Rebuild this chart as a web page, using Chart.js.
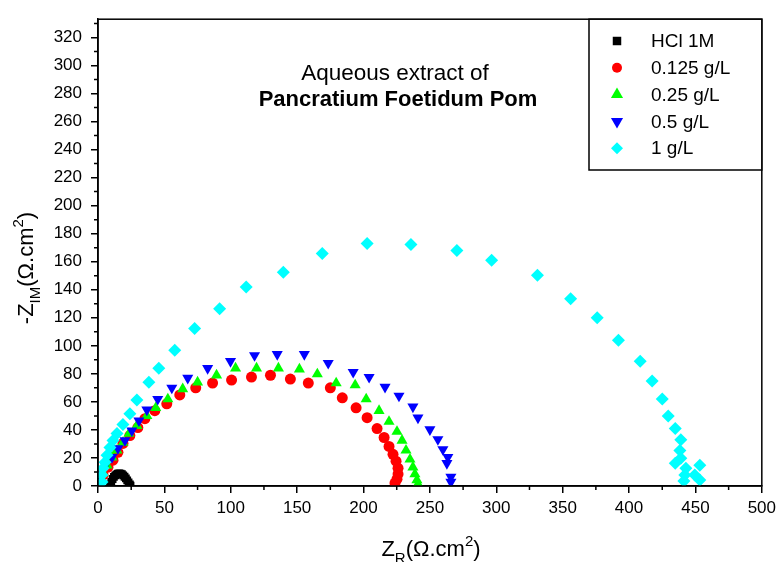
<!DOCTYPE html>
<html>
<head>
<meta charset="utf-8">
<script src="https://cdn.jsdelivr.net/npm/chart.js"></script>
<style>
  html, body { margin: 0; padding: 0; background: #fff; }
</style>
</head>
<body>
<canvas id="nyquist" width="781" height="562"></canvas>
<script>
// series labels
const seriesLabels = ['HCl 1M', '0.125 g/L', '0.25 g/L', '0.5 g/L', '1 g/L'];

// HCl 1M
const hclX = [9, 10, 11, 12, 13, 14, 15, 16, 17, 18, 19, 20, 21, 22, 23, 24, 24.5];
const hclY = [1, 3, 5, 6.5, 7.6, 8.3, 8.8, 9, 8.8, 8.4, 7.6, 6.6, 5.4, 4, 2.6, 1.2, 0.3];

// 0.125 g/L
const c0125X = [0, 3.8, 7.5, 11.3, 15, 18.8, 24, 30, 35.3, 42.8, 51.8, 61.6, 73.6, 86.3, 100.6, 115.6, 129.9, 144.9, 158.4, 175, 184, 194.4, 202.7, 210.2, 215.5, 219.2, 222.2, 224.5, 226, 226, 225.2, 223.7];
const c0125Y = [2, 7.8, 13.4, 18.4, 24, 30.4, 36, 41.7, 48, 53.7, 58.6, 65, 70, 73.4, 75.6, 77.7, 79, 76.3, 73.4, 70, 62.9, 55.8, 48.7, 41, 34.6, 28.2, 22.6, 17.7, 12.7, 8.5, 4.9, 2.1];

// 0.25 g/L
const c025X = [0, 3.8, 6.8, 10.5, 14.3, 18.8, 23.3, 29.3, 36.8, 43.5, 52.6, 63.8, 75, 89.3, 103.6, 119.4, 135.9, 151.7, 165.2, 179.4, 193.7, 202, 211.7, 219.2, 225.2, 229, 232, 235, 237.2, 238.7, 240.2, 241];
const c025Y = [2.8, 9.2, 14.8, 20.5, 25.4, 31, 37.4, 43, 50, 55.8, 62, 69.2, 74, 79, 84, 84, 84, 83.3, 79.8, 73.4, 72, 62, 53.7, 45.9, 38.8, 32.5, 25.4, 19, 13.4, 8.5, 4.2, 1.4];

// 0.5 g/L
const c05X = [0, 1.5, 5.3, 10.5, 15, 20.3, 25.5, 30.8, 36.8, 45, 55.6, 67.6, 82.6, 99.8, 117.9, 135, 155.4, 173.4, 192.2, 204.2, 216.2, 226.7, 237.2, 241, 250, 256, 259.8, 263.5, 262.8, 265.8, 265.8];
const c05Y = [2.8, 7.8, 14.8, 20.5, 26.8, 32.5, 39.5, 46.6, 54.4, 62, 70, 77, 84, 89, 93.2, 94, 94, 87.6, 81.2, 77.7, 70.6, 64.3, 56.5, 48.7, 40.3, 33.2, 26.1, 20.5, 16.2, 6.4, 2.8];

// 1 g/L
const c1X = [3, 3, 3.8, 5.3, 6.8, 9, 11.3, 14.3, 18.8, 24, 29.3, 38.3, 45.8, 57.8, 72.8, 91.6, 111.6, 139.6, 168.9, 202.7, 235.7, 270.3, 296.5, 331, 356, 376, 392, 408.4, 417.4, 425, 429.5, 434.8, 439, 438.3, 439, 434.8, 453.3, 442.8, 442, 449.5, 453.3, 441.3];
const c1Y = [2.8, 7.8, 12.7, 17, 21.9, 27.5, 32.5, 37.4, 43.8, 51.5, 61.4, 74, 84, 96.8, 112.3, 126.4, 142, 152.5, 165.9, 173, 172.3, 168, 161, 150.4, 133.5, 120, 104, 89, 74.9, 62, 50, 41, 33, 25.4, 19.8, 16.2, 14.8, 12.7, 7.8, 7.8, 4.2, 3.5];

// axes
const xMin = 0, xMax = 500, xStep = 50;
const yMin = 0, yMax = 333, yStep = 20;

const toPts = (xs, ys) => xs.map((v, i) => ({ x: v, y: ys[i] }));

const styles = [
  { color: '#000000', pointStyle: 'rect', radius: 5.5, rotation: 0 },
  { color: '#ff0000', pointStyle: 'circle', radius: 5.5, rotation: 0 },
  { color: '#00ff00', pointStyle: 'triangle', radius: 6.4, rotation: 0 },
  { color: '#0000ff', pointStyle: 'triangle', radius: 6.4, rotation: 180 },
  { color: '#00ffff', pointStyle: 'rectRot', radius: 6.5, rotation: 0 }
];
const seriesData = [toPts(hclX, hclY), toPts(c0125X, c0125Y), toPts(c025X, c025Y), toPts(c05X, c05Y), toPts(c1X, c1Y)];

const datasets = seriesData.map((d, i) => ({
  label: seriesLabels[i],
  data: d,
  showLine: false,
  pointStyle: styles[i].pointStyle,
  pointRadius: styles[i].radius,
  pointRotation: styles[i].rotation,
  pointBackgroundColor: styles[i].color,
  pointBorderColor: styles[i].color,
  pointBorderWidth: 0,
  order: 5 - i   // cyan drawn on top
}));

const FONT = '"Liberation Sans", Arial, sans-serif';

// text with sub/superscripts
function richText(ctx, parts, cx, cy, angle) {
  ctx.save();
  ctx.translate(cx, cy);
  ctx.rotate(angle);
  let w = 0;
  parts.forEach(p => { ctx.font = p.size + 'px ' + FONT; w += ctx.measureText(p.t).width; });
  let x = -w / 2;
  ctx.fillStyle = '#000';
  ctx.textBaseline = 'alphabetic';
  ctx.textAlign = 'left';
  parts.forEach(p => {
    ctx.font = p.size + 'px ' + FONT;
    ctx.fillText(p.t, x, p.dy || 0);
    x += ctx.measureText(p.t).width;
  });
  ctx.restore();
}

const decorations = {
  id: 'decorations',
  afterDraw(chart) {
    const { ctx, chartArea: a, scales } = chart;
    ctx.save();
    // frame
    ctx.strokeStyle = '#000';
    ctx.lineWidth = 1.5;
    ctx.strokeRect(a.left, a.top, a.right - a.left, a.bottom - a.top);

    // minor ticks halfway between major ones
    ctx.beginPath();
    const xt = scales.x.ticks;
    for (let i = 0; i < xt.length - 1; i++) {
      const px = scales.x.getPixelForValue((xt[i].value + xt[i + 1].value) / 2);
      ctx.moveTo(px, a.bottom); ctx.lineTo(px, a.bottom + 4);
    }
    const yt = scales.y.ticks;
    for (let i = 0; i < yt.length; i++) {
      const v = yt[i].value + yStep / 2;
      if (v > yMax) break;
      const py = scales.y.getPixelForValue(v);
      ctx.moveTo(a.left, py); ctx.lineTo(a.left - 4, py);
    }
    ctx.stroke();

    // annotation
    ctx.fillStyle = '#000';
    ctx.textAlign = 'center';
    ctx.textBaseline = 'middle';
    ctx.font = '22.5px ' + FONT;
    ctx.fillText('Aqueous extract of', 395, 74);
    ctx.font = 'bold 22px ' + FONT;
    ctx.fillText('Pancratium Foetidum Pom', 398, 100);

    // axis titles
    richText(ctx, [
      { t: 'Z', size: 22 }, { t: 'R', size: 15, dy: 7 },
      { t: '(\u03A9.cm', size: 22 }, { t: '2', size: 15, dy: -10 }, { t: ')', size: 22 }
    ], 431, 556, 0);
    richText(ctx, [
      { t: '-Z', size: 22 }, { t: 'IM', size: 15, dy: 7 },
      { t: '(\u03A9.cm', size: 22 }, { t: '2', size: 15, dy: -10 }, { t: ')', size: 22 }
    ], 33, 268, -Math.PI / 2);

    // legend box
    const lx = 589, ly = a.top, lw = a.right - 589, lh = 170 - a.top;
    ctx.fillStyle = '#fff';
    ctx.fillRect(lx, ly, lw, lh);
    ctx.lineWidth = 1.5;
    ctx.strokeStyle = '#000';
    ctx.strokeRect(lx, ly, lw, lh);
    const legendR = [6, 5, 7, 7, 6];
    seriesLabels.forEach((lab, i) => {
      const ry = 41 + i * 26.8;
      ctx.fillStyle = styles[i].color;
      ctx.strokeStyle = styles[i].color;
      Chart.helpers.drawPoint(ctx, {
        pointStyle: styles[i].pointStyle,
        radius: legendR[i],
        rotation: styles[i].rotation,
        borderWidth: 0
      }, 617, ry);
      ctx.fillStyle = '#000';
      ctx.textAlign = 'left';
      ctx.textBaseline = 'middle';
      ctx.font = '19px ' + FONT;
      ctx.fillText(lab, 651, ry + 1);
    });
    ctx.restore();
  }
};

new Chart(document.getElementById('nyquist'), {
  type: 'scatter',
  data: { datasets },
  plugins: [decorations],
  options: {
    responsive: false,
    animation: false,
    layout: { padding: { top: 15, right: 17, left: 0, bottom: 0 } },
    plugins: { legend: { display: false }, tooltip: { enabled: false } },
    scales: {
      x: {
        type: 'linear',
        min: xMin, max: xMax,
        afterFit: s => { s.height = 76; },
        ticks: { stepSize: xStep, color: '#000', padding: 5, font: { family: FONT, size: 17 }, maxRotation: 0, includeBounds: false },
        grid: { drawOnChartArea: false, tickLength: 7, color: '#000', lineWidth: 1.5 },
        border: { color: '#000', width: 1.5 }
      },
      y: {
        type: 'linear',
        min: yMin, max: yMax,
        afterFit: s => { s.width = 98; },
        ticks: { stepSize: yStep, color: '#000', padding: 9, font: { family: FONT, size: 17 }, includeBounds: false },
        grid: { drawOnChartArea: false, tickLength: 7, color: '#000', lineWidth: 1.5 },
        border: { color: '#000', width: 1.5 }
      }
    }
  }
});
</script>
</body>
</html>
